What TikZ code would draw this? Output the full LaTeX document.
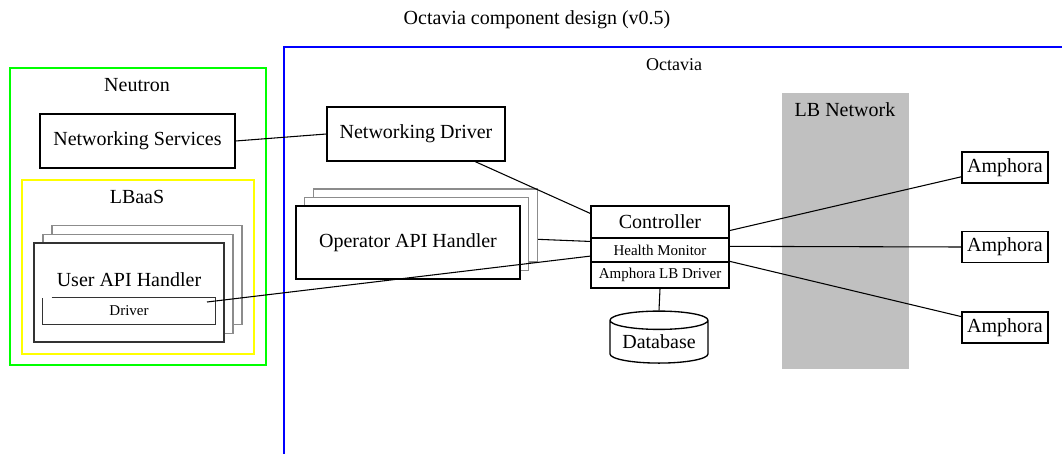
\documentclass[tikz,border=0pt]{standalone}
\usepackage{fontspec}
\setmainfont{Liberation Serif}
\usetikzlibrary{positioning, shapes.geometric}
\definecolor{neutrongreen}{RGB}{0,255,0}
\definecolor{lbaasyellow}{RGB}{255,255,0}
\definecolor{octaviablue}{RGB}{0,0,255}
\definecolor{lbgray}{RGB}{192,192,192}
\definecolor{ghostgray}{RGB}{140,140,140}
\begin{document}
\begin{tikzpicture}[
  x=0.75pt, y=-0.75pt,
  big/.style={font=\fontsize{15}{18}\selectfont},
  small/.style={font=\fontsize{11.25}{13.5}\selectfont},
  comp/.style={rectangle, draw, line width=1pt, fill=white, inner sep=0pt, big},
  ghost/.style={rectangle, draw=ghostgray, line width=1pt, fill=white, inner sep=0pt},
  group/.style={line width=0.8pt},
  link/.style={line width=0.8pt}
]
  \clip (0,0) rectangle (1062,453);
  \node[big] (title) at (537,20) {Octavia component design (v0.5)};

  % Neutron side
  \draw[group, draw=neutrongreen] (10,68) rectangle (266,365);
  \node[big] (neutron) at (137,85) {Neutron};
  \node[comp, minimum width=146.25pt, minimum height=40.5pt] (ns) at (137.5,141) {Networking Services};
  \draw[group, draw=lbaasyellow] (22,180) rectangle (254,354);
  \node[big] (lbaas) at (137,197) {LBaaS};
  \foreach \k in {2,1}
    \node[ghost, minimum width=142.5pt, minimum height=74.25pt] (uapi\k) at (129+9*\k, 292.5-8.75*\k) {};
  \node[comp, draw=black!80, minimum width=142.5pt, minimum height=74.25pt] (uapi) at (129,292.5) {};
  \node[big] (uapitext) at (129,280) {User API Handler};
  \node[small, minimum width=129pt, minimum height=19.5pt, inner sep=0pt] (drv) at (129,311) {Driver};
  \draw[line width=1pt, black!80] ([xshift=6.75pt]drv.north west) -- (drv.north east) -- (drv.south east) -- (drv.south west) -- (drv.north west);
  \coordinate (drvport) at (207,302);

  % Octavia side
  \draw[group, draw=octaviablue] (284,47) rectangle (1080,470);
  \node[font=\fontsize{13.5}{16}\selectfont] (octavia) at (674,65) {Octavia};
  \fill[lbgray] (782,93) rectangle (909,369);
  \node[big] (lbnet) at (845,110) {LB Network};
  \node[comp, minimum width=133.5pt, minimum height=40.5pt] (nd) at (416,134) {Networking Driver};
  \foreach \k in {2,1}
    \node[ghost, minimum width=168pt, minimum height=54.75pt] (op\k) at (408+8.75*\k, 242.5-8.5*\k) {};
  \node[comp, minimum width=168pt, minimum height=54.75pt] (op) at (408,242.5) {Operator API Handler};
  \node[comp, minimum width=103.5pt, minimum height=24pt] (ctrl) at (660,222) {Controller};
  \node[comp, small, minimum width=103.5pt, minimum height=18pt] (hm) at (660,250) {Health Monitor};
  \node[comp, small, minimum width=103.5pt, minimum height=19.5pt] (lbd) at (660,275) {Amphora LB Driver};
  \node[cylinder, shape border rotate=90, draw, line width=1pt, aspect=0.25, inner sep=0pt,
        minimum width=73.5pt, minimum height=39pt, big] (db) at (659,342) {Database};
  \foreach \i/\y in {1/167.5, 2/247, 3/327.5}
    \node[comp, minimum width=64.5pt, minimum height=23.25pt] (amp\i) at (1005,\y) {Amphora};

  % connections
  \draw[link] (ns.east) -- (nd.west);
  \draw[link] (nd.-25) -- (ctrl.173);
  \draw[link] (op2.-7) -- (hm.173);
  \draw[link] (drvport) -- (hm.185);
  \draw[link] (ctrl.-7) -- (amp1.192);
  \draw[link] (hm.3) -- (amp2.west);
  \draw[link] (lbd.north east) -- (amp3.166);
  \draw[link] (lbd.south) -- (db.north);
\end{tikzpicture}
\end{document}
